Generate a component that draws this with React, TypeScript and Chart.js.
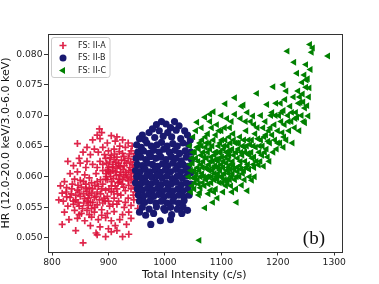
import React, { useEffect, useRef } from "react";
import { Chart, registerables } from "chart.js";

Chart.register(...registerables);

const seriesNames = ["FS: II-A", "FS: II-B", "FS: II-C"];
const seriesColors = ["rgba(220,20,60,0.92)", "#191970", "#008000"];
const xTicks = [800, 900, 1000, 1100, 1200, 1300];
const yTicks = [0.05, 0.055, 0.06, 0.065, 0.07, 0.075, 0.08];
const xTitle = "Total Intensity (c/s)";
const yTitle = "HR (12.0-20.0 keV/3.0-6.0 keV)";
const panelLabel = "(b)";

const pointsA: number[][] = [
  [884,0.0678],[888,0.0672],[880,0.0668],[905,0.0667],[915,0.0665],[845,0.0654],[872,0.0660],[885,0.0662],[898,0.0655],[912,0.0658],
  [925,0.0660],[935,0.0655],[942,0.0650],[862,0.0648],[875,0.0645],[890,0.0648],[920,0.0650],[930,0.0648],[855,0.0640],[868,0.0636],
  [882,0.0640],[900,0.0642],[910,0.0645],[940,0.0642],[948,0.0638],[828,0.0625],[838,0.0618],[850,0.0622],[860,0.0615],[872,0.0620],
  [885,0.0625],[895,0.0630],[905,0.0635],[915,0.0632],[925,0.0638],[935,0.0630],[945,0.0628],[832,0.0605],[845,0.0608],[858,0.0603],
  [866,0.0598],[878,0.0605],[890,0.0610],[900,0.0615],[908,0.0620],[918,0.0622],[928,0.0618],[938,0.0615],[950,0.0612],[896,0.0605],
  [904,0.0600],[912,0.0608],[920,0.0603],[930,0.0607],[940,0.0600],[946,0.0605],[915,0.0614],[923,0.0627],[910,0.0628],[902,0.0624],
  [932,0.0622],[942,0.0620],[926,0.0612],[918,0.0596],[906,0.0592],[898,0.0595],[935,0.0593],[944,0.0590],[950,0.0596],[912,0.0585],
  [924,0.0588],[890,0.0588],[880,0.0592],[870,0.0590],[860,0.0588],[850,0.0594],[840,0.0596],[822,0.0592],[815,0.0585],[818,0.0573],
  [812,0.0562],[825,0.0575],[835,0.0580],[845,0.0578],[852,0.0583],[862,0.0576],[872,0.0580],[882,0.0584],[895,0.0578],[905,0.0575],
  [915,0.0580],[930,0.0577],[940,0.0580],[948,0.0583],[820,0.0560],[832,0.0566],[842,0.0562],[850,0.0568],[858,0.0564],[866,0.0570],
  [875,0.0566],[886,0.0572],[898,0.0568],[910,0.0565],[922,0.0570],[935,0.0565],[945,0.0562],[828,0.0552],[838,0.0555],[848,0.0552],
  [856,0.0557],[864,0.0553],[872,0.0558],[880,0.0554],[890,0.0557],[902,0.0552],[915,0.0555],[928,0.0550],[940,0.0553],[952,0.0548],
  [822,0.0542],[840,0.0545],[852,0.0540],[862,0.0545],[875,0.0542],[888,0.0546],[898,0.0540],[910,0.0543],[925,0.0538],[936,0.0542],
  [830,0.0530],[845,0.0532],[858,0.0528],[870,0.0534],[882,0.0530],[895,0.0533],[905,0.0528],[920,0.0530],[940,0.0532],[818,0.0522],
  [868,0.0520],[885,0.0518],[900,0.0515],[912,0.0520],[932,0.0522],[842,0.0512],[878,0.0508],[895,0.0502],[905,0.0510],[925,0.0502],
  [936,0.0506],[855,0.0492],[880,0.0505],[915,0.0512],[908,0.0610],[914,0.0602],[922,0.0607],[936,0.0610],[944,0.0612],[900,0.0608],
  [927,0.0600],[918,0.0618],[932,0.0603],[940,0.0607],[864,0.0565],[856,0.0572],[870,0.0573],[878,0.0568],[848,0.0575],[860,0.0580],
  [868,0.0558],[876,0.0550],[884,0.0562],[892,0.0565],[842,0.0570],[905,0.0585],[920,0.0592],[948,0.0575],[895,0.0596],
  [897,0.0622],[903,0.0631],[911,0.0637],[919,0.0641],[927,0.0633],[937,0.0637],[945,0.0633],[899,0.0612],[907,0.0616],[913,0.0624],
  [921,0.0616],[929,0.0626],[939,0.0624],[947,0.0618],[896,0.0600],[903,0.0606],[909,0.0597],[917,0.0590],[925,0.0595],[933,0.0598],
  [941,0.0596],[949,0.0602],[901,0.0580],[909,0.0576],[916,0.0572],[927,0.0583],[936,0.0586],[944,0.0570],[952,0.0590],[890,0.0620],
  [880,0.0615],[893,0.0636],[862,0.0625],[848,0.0630],[836,0.0588],[826,0.0582],[846,0.0586],[856,0.0592],[866,0.0582],[876,0.0586],
  [886,0.0595],[834,0.0572],[826,0.0567],[838,0.0560],[846,0.0558],[854,0.0548],[862,0.0560],[870,0.0548],[880,0.0575],[888,0.0580],
  [894,0.0560],[900,0.0560],[908,0.0555],[918,0.0560],[930,0.0558],[888,0.0537],[866,0.0538],[848,0.0538]
];

const pointsB: number[][] = [
  [985,0.0685],[994,0.0690],[1002,0.0686],[1010,0.0680],[1017,0.0690],[978,0.0678],[1025,0.0683],[960,0.0668],[972,0.0672],[1035,0.0675],
  [990,0.0675],[1005,0.0672],[1020,0.0676],[955,0.0662],[965,0.0660],[982,0.0664],[997,0.0666],[1012,0.0665],[1028,0.0662],[1040,0.0668],
  [1045,0.0660],[950,0.0652],[958,0.0648],[968,0.0655],[976,0.0650],[986,0.0652],[994,0.0656],[1004,0.0650],[1014,0.0654],[1022,0.0650],
  [1032,0.0655],[1042,0.0652],[952,0.0640],[962,0.0642],[972,0.0638],[980,0.0643],[990,0.0640],[998,0.0645],[1008,0.0640],[1018,0.0643],
  [1026,0.0638],[1036,0.0642],[1046,0.0640],[949,0.0630],[957,0.0632],[966,0.0628],[975,0.0633],[984,0.0630],[993,0.0632],[1002,0.0628],
  [1011,0.0633],[1020,0.0630],[1029,0.0626],[1038,0.0632],[1047,0.0628],[951,0.0620],[960,0.0618],[969,0.0622],[978,0.0620],[987,0.0617],
  [996,0.0621],[1005,0.0618],[1014,0.0622],[1023,0.0618],[1032,0.0620],[1041,0.0617],[948,0.0610],[956,0.0608],[965,0.0612],[974,0.0608],
  [983,0.0611],[992,0.0607],[1001,0.0611],[1010,0.0608],[1019,0.0612],[1028,0.0608],[1037,0.0611],[1046,0.0607],[950,0.0600],[959,0.0598],
  [968,0.0602],[977,0.0599],[986,0.0602],[995,0.0598],[1004,0.0601],[1013,0.0597],[1022,0.0601],[1031,0.0598],[1040,0.0602],[948,0.0590],
  [957,0.0588],[966,0.0591],[975,0.0588],[984,0.0591],[993,0.0587],[1002,0.0590],[1011,0.0588],[1020,0.0591],[1029,0.0587],[1038,0.0590],
  [1046,0.0588],[951,0.0580],[960,0.0578],[969,0.0581],[978,0.0578],[987,0.0581],[996,0.0577],[1005,0.0580],[1014,0.0577],[1023,0.0580],
  [1032,0.0577],[1041,0.0580],[953,0.0570],[962,0.0568],[971,0.0571],[980,0.0568],[989,0.0571],[998,0.0567],[1007,0.0570],[1016,0.0567],
  [1025,0.0570],[1034,0.0567],[1043,0.0570],[955,0.0560],[964,0.0558],[974,0.0561],[984,0.0557],[994,0.0560],[1004,0.0557],[1014,0.0560],
  [1024,0.0557],[1034,0.0561],[960,0.0550],[972,0.0547],[985,0.0551],[998,0.0548],[1010,0.0550],[1022,0.0547],[1032,0.0551],[955,0.0542],
  [966,0.0537],[980,0.0540],[1000,0.0545],[992,0.0528],[1010,0.0530],[975,0.0522],[1012,0.0538],[1030,0.0540],[1040,0.0545]
];

const pointsC: number[][] = [
  [1042,0.0600],[1045,0.0620],[1048,0.0585],[1050,0.0640],[1046,0.0575],[1052,0.0610],[1055,0.0630],[1044,0.0650],[1057,0.0689],[1058,0.0595],
  [1060,0.0570],[1062,0.0574],[1062,0.0655],[1064,0.0620],[1066,0.0605],[1068,0.0640],[1070,0.0585],[1072,0.0665],[1071,0.0697],[1071,0.0549],
  [1050,0.0665],[1055,0.0675],[1065,0.0680],[1048,0.0630],[1053,0.0590],[1058,0.0615],[1063,0.0600],[1068,0.0625],[1061,0.0496],[1052,0.0580],
  [1060,0.0645],[1066,0.0660],[1075,0.0600],[1077,0.0572],[1078,0.0620],[1080,0.0645],[1082,0.0590],[1084,0.0610],[1085,0.0558],[1086,0.0706],
  [1086,0.0660],[1088,0.0635],[1090,0.0580],[1092,0.0600],[1094,0.0625],[1095,0.0650],[1096,0.0675],[1098,0.0610],[1074,0.0630],[1079,0.0655],
  [1083,0.0680],[1087,0.0595],[1091,0.0640],[1093,0.0565],[1097,0.0590],[1099,0.0640],[1076,0.0612],[1081,0.0578],[1089,0.0618],[1094,0.0605],
  [1080,0.0690],[1090,0.0668],[1102,0.0600],[1104,0.0625],[1105,0.0650],[1107,0.0719],[1108,0.0585],[1110,0.0610],[1112,0.0640],[1114,0.0665],
  [1115,0.0595],[1117,0.0620],[1118,0.0690],[1120,0.0605],[1122,0.0635],[1124,0.0702],[1124,0.0729],[1125,0.0655],[1126,0.0580],[1127,0.0558],
  [1128,0.0615],[1130,0.0645],[1103,0.0575],[1106,0.0680],[1111,0.0590],[1113,0.0628],[1116,0.0655],[1119,0.0575],[1121,0.0670],[1123,0.0612],
  [1109,0.0640],[1129,0.0630],[1101,0.0660],[1118,0.0600],[1132,0.0600],[1134,0.0625],[1136,0.0586],[1136,0.0715],[1138,0.0650],[1139,0.0717],
  [1140,0.0610],[1142,0.0640],[1144,0.0675],[1146,0.0577],[1147,0.0620],[1148,0.0660],[1150,0.0600],[1152,0.0690],[1154,0.0594],[1155,0.0630],
  [1156,0.0699],[1157,0.0650],[1158,0.0615],[1160,0.0670],[1133,0.0665],[1137,0.0635],[1141,0.0595],[1145,0.0650],[1149,0.0612],[1153,0.0640],
  [1143,0.0690],[1159,0.0600],[1162,0.0625],[1163,0.0736],[1164,0.0680],[1166,0.0619],[1168,0.0650],[1170,0.0700],[1172,0.0635],[1175,0.0617],
  [1176,0.0665],[1178,0.0690],[1180,0.0645],[1181,0.0718],[1182,0.0632],[1184,0.0675],[1186,0.0655],[1188,0.0700],[1190,0.0705],[1192,0.0747],
  [1192,0.0640],[1194,0.0685],[1195,0.0660],[1197,0.0720],[1198,0.0645],[1200,0.0675],[1170,0.0660],[1174,0.0680],[1167,0.0640],[1185,0.0625],
  [1190,0.0668],[1202,0.0700],[1204,0.0655],[1206,0.0690],[1208,0.0672],[1210,0.0648],[1210,0.0708],[1210,0.0750],[1212,0.0685],[1213,0.0726],
  [1215,0.0660],[1217,0.0805],[1218,0.0700],[1220,0.0675],[1222,0.0715],[1224,0.0690],[1226,0.0655],[1228,0.0730],[1229,0.0787],[1230,0.0680],
  [1232,0.0705],[1234,0.0697],[1234,0.0769],[1236,0.0740],[1237,0.0720],[1238,0.0675],[1240,0.0721],[1205,0.0720],[1215,0.0740],[1242,0.0700],
  [1243,0.0754],[1244,0.0735],[1246,0.0690],[1247,0.0766],[1248,0.0712],[1250,0.0746],[1250,0.0783],[1252,0.0716],[1253,0.0760],[1254,0.0699],
  [1255,0.0730],[1256,0.0745],[1257,0.0816],[1258,0.0775],[1260,0.0803],[1262,0.0810],[1289,0.0797],[1245,0.0722],[1251,0.0758],[1248,0.0688],
  [1056,0.0605],[1059,0.0625],[1067,0.0590],[1073,0.0615],[1078,0.0600],[1085,0.0625],[1092,0.0615],[1100,0.0620],[1105,0.0605],[1112,0.0615],
  [1120,0.0625],[1127,0.0600],[1135,0.0612],[1142,0.0625],[1150,0.0635],[1157,0.0620],[1064,0.0635],[1072,0.0648],[1082,0.0632],[1097,0.0630],
  [1108,0.0632],[1116,0.0643],[1128,0.0655],[1140,0.0660],[1050,0.0598],[1060,0.0588],[1088,0.0605],[1102,0.0590],
  [1046,0.0610],[1049,0.0622],[1053,0.0640],[1054,0.0600],[1057,0.0648],[1061,0.0610],[1063,0.0582],[1065,0.0650],[1067,0.0615],[1069,0.0600],
  [1070,0.0632],[1073,0.0595],[1074,0.0655],[1076,0.0640],[1077,0.0588],[1079,0.0610],[1081,0.0625],[1083,0.0600],[1084,0.0650],[1086,0.0615],
  [1087,0.0575],[1089,0.0640],[1091,0.0628],[1093,0.0595],[1095,0.0615],[1096,0.0640],[1098,0.0655],[1099,0.0600],[1101,0.0632],[1103,0.0615],
  [1104,0.0645],[1106,0.0595],[1107,0.0660],[1109,0.0622],[1110,0.0595],[1111,0.0650],[1113,0.0605],[1114,0.0635],[1116,0.0612],[1117,0.0585],
  [1119,0.0645],[1121,0.0618],[1122,0.0660],[1124,0.0595],[1126,0.0640],[1129,0.0608],[1131,0.0655],[1133,0.0618],[1135,0.0640],[1138,0.0605],
  [1141,0.0648],[1144,0.0615],[1147,0.0638],[1151,0.0652],[1154,0.0660],[1158,0.0632],[1161,0.0648],[1165,0.0662],[1169,0.0625],[1173,0.0650],
  [1177,0.0640],[1179,0.0668],[1183,0.0658],[1187,0.0680],[1196,0.0700],[1200,0.0655],[1207,0.0705],[1211,0.0665],[1219,0.0690],[1225,0.0705],
  [1231,0.0695],[1239,0.0730],[1076,0.0670],[1092,0.0685],[1100,0.0675],[1115,0.0680],[1134,0.0695],[1146,0.0705],[1158,0.0685],[1100,0.0700],
  [1110,0.0695],[1080,0.0702]
];

const FONT = "'DejaVu Sans', sans-serif";

function drawMarker(ctx: CanvasRenderingContext2D, kind: number, x: number, y: number) {
  ctx.save();
  ctx.fillStyle = seriesColors[kind];
  ctx.strokeStyle = seriesColors[kind];
  if (kind === 0) {
    ctx.lineWidth = 1.7;
    ctx.beginPath();
    ctx.moveTo(x - 3.5, y); ctx.lineTo(x + 3.5, y);
    ctx.moveTo(x, y - 3.5); ctx.lineTo(x, y + 3.5);
    ctx.stroke();
  } else if (kind === 1) {
    ctx.beginPath();
    ctx.arc(x, y, 3.5, 0, Math.PI * 2);
    ctx.fill();
  } else {
    ctx.beginPath();
    ctx.moveTo(x - 4, y);
    ctx.lineTo(x + 2, y - 3.46);
    ctx.lineTo(x + 2, y + 3.46);
    ctx.closePath();
    ctx.fill();
  }
  ctx.restore();
}

const framePlugin = {
  id: "frameAndLegend",
  afterDraw(chart: any) {
    const ctx = chart.ctx as CanvasRenderingContext2D;
    const a = chart.chartArea;
    ctx.save();
    ctx.strokeStyle = "#333";
    ctx.lineWidth = 1;
    ctx.strokeRect(Math.round(a.left) + 0.5, Math.round(a.top) + 0.5, Math.round(a.right - a.left), Math.round(a.bottom - a.top));

    const lx = a.left + 4, ly = a.top + 3.5, lw = 58.5, lh = 40;
    ctx.beginPath();
    const r = 2.5;
    ctx.moveTo(lx + r, ly);
    ctx.lineTo(lx + lw - r, ly);
    ctx.quadraticCurveTo(lx + lw, ly, lx + lw, ly + r);
    ctx.lineTo(lx + lw, ly + lh - r);
    ctx.quadraticCurveTo(lx + lw, ly + lh, lx + lw - r, ly + lh);
    ctx.lineTo(lx + r, ly + lh);
    ctx.quadraticCurveTo(lx, ly + lh, lx, ly + lh - r);
    ctx.lineTo(lx, ly + r);
    ctx.quadraticCurveTo(lx, ly, lx + r, ly);
    ctx.closePath();
    ctx.fillStyle = "rgba(255,255,255,0.8)";
    ctx.fill();
    ctx.strokeStyle = "#cccccc";
    ctx.stroke();
    ctx.font = `8px ${FONT}`;
    ctx.textBaseline = "middle";
    ctx.textAlign = "left";
    for (let i = 0; i < seriesNames.length; i++) {
      const yy = ly + 8 + i * 12.5;
      drawMarker(ctx, i, lx + 11.5, yy);
      ctx.fillStyle = "#222";
      ctx.fillText(seriesNames[i], lx + 26.5, yy);
    }

    ctx.font = `19px 'Liberation Serif', serif`;
    ctx.fillStyle = "#111";
    ctx.textAlign = "right";
    ctx.textBaseline = "alphabetic";
    ctx.fillText(panelLabel, a.right - 16, a.bottom - 8);
    ctx.restore();
  },
};

export default function App() {
  const ref = useRef<HTMLCanvasElement | null>(null);
  useEffect(() => {
    if (!ref.current) return;
    const toXY = (p: number[][]) => p.map(([x, y]) => ({ x, y }));
    const chart = new Chart(ref.current, {
      type: "scatter",
      data: {
        datasets: [
          {
            label: seriesNames[0],
            data: toXY(pointsA),
            pointStyle: "cross",
            pointRadius: 3.5,
            borderColor: seriesColors[0],
            backgroundColor: seriesColors[0],
            pointBorderWidth: 1.7,
            order: 3,
          },
          {
            label: seriesNames[1],
            data: toXY(pointsB),
            pointStyle: "circle",
            pointRadius: 3.6,
            borderColor: seriesColors[1],
            backgroundColor: seriesColors[1],
            pointBorderWidth: 0,
            order: 2,
          },
          {
            label: seriesNames[2],
            data: toXY(pointsC),
            pointStyle: "triangle",
            pointRotation: -90,
            pointRadius: 4,
            borderColor: seriesColors[2],
            backgroundColor: seriesColors[2],
            pointBorderWidth: 0,
            order: 1,
          },
        ],
      },
      options: {
        responsive: false,
        animation: false,
        events: [],
        layout: { padding: { left: 0, top: 34, right: 38, bottom: 0 } },
        plugins: { legend: { display: false }, tooltip: { enabled: false } },
        scales: {
          x: {
            type: "linear",
            min: 792,
            max: 1312,
            afterBuildTicks: (s: any) => { s.ticks = xTicks.map((v) => ({ value: v })); },
            afterFit: (s: any) => { s.height = 32; },
            grid: { display: true, drawOnChartArea: false, drawTicks: true, tickLength: 3.5, color: "#333" },
            border: { display: false },
            ticks: { color: "#222", font: { family: FONT, size: 9.2 }, padding: 1.5, maxRotation: 0, autoSkip: false, callback: (v: any) => String(v) },
            title: { display: true, text: xTitle, color: "#111", font: { family: FONT, size: 11 }, padding: { top: 3, bottom: 2 } },
          },
          y: {
            type: "linear",
            min: 0.0477,
            max: 0.0833,
            afterBuildTicks: (s: any) => { s.ticks = yTicks.map((v) => ({ value: v })); },
            afterFit: (s: any) => { s.width = 47.5; },
            grid: { display: true, drawOnChartArea: false, drawTicks: true, tickLength: 3.5, color: "#333" },
            border: { display: false },
            ticks: { color: "#222", font: { family: FONT, size: 9.2 }, padding: 1.5, autoSkip: false, callback: (v: any) => Number(v).toFixed(3) },
            title: { display: true, text: yTitle, color: "#111", font: { family: FONT, size: 11 }, padding: { top: 0, bottom: 0 } },
          },
        },
      },
      plugins: [framePlugin],
    });
    return () => chart.destroy();
  }, []);
  return (
    <div style={{ position: "fixed", left: 0, top: 0, width: 379, height: 284, background: "#fff" }}>
      <canvas ref={ref} width={379} height={284} style={{ display: "block" }} />
    </div>
  );
}
